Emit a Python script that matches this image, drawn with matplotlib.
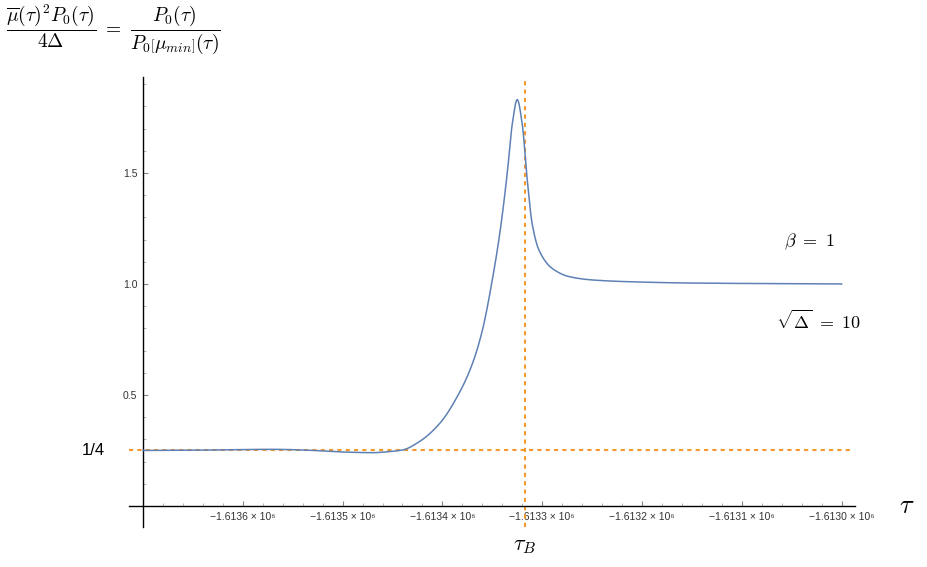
import numpy as np
import matplotlib
matplotlib.use("Agg")
import matplotlib.pyplot as plt
from matplotlib.ticker import FixedLocator, FixedFormatter

plt.rcParams['mathtext.fontset'] = 'cm'
plt.rcParams['font.family'] = ['Liberation Sans', 'DejaVu Sans']

# curve
tau = [-1613700, -1613650, -1613600, -1613570, -1613540, -1613520, -1613500,
       -1613470, -1613455, -1613440, -1613423, -1613403, -1613383, -1613370,
       -1613360, -1613350, -1613342, -1613335, -1613330, -1613325, -1613320,
       -1613315, -1613310, -1613303, -1613290, -1613273, -1613250, -1613213,
       -1613150, -1613000]
ratio = [0.250, 0.251, 0.254, 0.255, 0.252, 0.248, 0.243,
         0.240, 0.244, 0.252, 0.290, 0.370, 0.510, 0.640,
         0.790, 1.018, 1.243, 1.500, 1.720, 1.830, 1.720,
         1.470, 1.270, 1.150, 1.070, 1.033, 1.018, 1.010,
         1.004, 1.000]

tau_B = -1613317
quarter = 0.25
xticks = [-1613600, -1613500, -1613400, -1613300, -1613200, -1613100, -1613000]
xlabels = ["\u22121.6136 \u00d7 10\u2076", "\u22121.6135 \u00d7 10\u2076", "\u22121.6134 \u00d7 10\u2076",
           "\u22121.6133 \u00d7 10\u2076", "\u22121.6132 \u00d7 10\u2076", "\u22121.6131 \u00d7 10\u2076",
           "\u22121.6130 \u00d7 10\u2076"]
yticks = [0.5, 1.0, 1.5]
ylabels = ["0.5", "1.0", "1.5"]


# monotone cubic (Fritsch-Carlson) to draw a smooth line through the read points
def pchip(x, y, xn):
    x = np.asarray(x, float)
    y = np.asarray(y, float)
    h = np.diff(x)
    d = np.diff(y) / h
    m = np.zeros_like(y)
    for k in range(1, len(x) - 1):
        if d[k - 1] * d[k] > 0:
            w1 = 2 * h[k] + h[k - 1]
            w2 = h[k] + 2 * h[k - 1]
            m[k] = (w1 + w2) / (w1 / d[k - 1] + w2 / d[k])
    m[0] = d[0]
    m[-1] = d[-1]
    idx = np.clip(np.searchsorted(x, xn) - 1, 0, len(x) - 2)
    hk = h[idx]
    u = (xn - x[idx]) / hk
    h00 = 2 * u ** 3 - 3 * u ** 2 + 1
    h10 = u ** 3 - 2 * u ** 2 + u
    h01 = -2 * u ** 3 + 3 * u ** 2
    h11 = u ** 3 - u ** 2
    return h00 * y[idx] + h10 * hk * m[idx] + h01 * y[idx + 1] + h11 * hk * m[idx + 1]


xs = np.linspace(tau[0], tau[-1], 2000)
ys = pchip(tau, ratio, xs)

fig = plt.figure(figsize=(9.28, 5.67), dpi=100)
ax = fig.add_axes([0, 0, 1, 1])
ax.set_xlim(-1613843.3, -1612913.4)
ax.set_ylim(-0.275, 2.279)

orange = '#F39A2E'
ax.plot(xs, ys, color='#5E81B5', lw=1.1, zorder=3)
ax.plot([-1613714, -1612990], [quarter, quarter], color=orange, lw=1.5, ls=(0, (2, 2)), zorder=2)
ax.plot([tau_B, tau_B], [-0.095, 1.93], color=orange, lw=1.5, ls=(0, (2, 2)), zorder=2)

for sp in ['top', 'right']:
    ax.spines[sp].set_visible(False)
ax.spines['left'].set_position(('data', -1613700))
ax.spines['bottom'].set_position(('data', 0))
ax.spines['left'].set_bounds(-0.095, 1.93)
ax.spines['bottom'].set_bounds(-1613714, -1612987)
for sp in ['left', 'bottom']:
    ax.spines[sp].set_linewidth(1.0)
    ax.spines[sp].set_color('black')

ax.xaxis.set_major_locator(FixedLocator(xticks))
ax.xaxis.set_major_formatter(FixedFormatter(xlabels))
ax.xaxis.set_minor_locator(FixedLocator([v for v in range(-1613700, -1612990, 20) if v % 100 != 0]))
ax.yaxis.set_major_locator(FixedLocator(yticks))
ax.yaxis.set_major_formatter(FixedFormatter(ylabels))
ax.yaxis.set_minor_locator(FixedLocator([0.1, 0.2, 0.3, 0.4, 0.6, 0.7, 0.8, 0.9,
                                         1.1, 1.2, 1.3, 1.4, 1.6, 1.7, 1.8, 1.9]))
ax.tick_params(which='major', direction='in', length=3.5, width=0.8, color='#888888',
               labelsize=7.5, labelcolor='#333333', pad=4)
ax.tick_params(which='minor', direction='in', length=2, width=0.6, color='#aaaaaa')

ax.text(-1613738, quarter, "1/4", fontsize=12, ha='right', va='center')
ax.text(-1612935, 0.0, r"$\tau$", fontsize=19, ha='center', va='center')
ax.text(tau_B, -0.18, r"$\tau_B$", fontsize=16, ha='center', va='center')
ax.text(-1613007, 1.19, r"$\beta\ =\ 1$", fontsize=13, ha='right', va='center')
ax.text(-1612980, 0.83, r"$\sqrt{\Delta}\ =\ 10$", fontsize=13, ha='right', va='center')
fig.text(0.006, 0.995, r"$\dfrac{\overline{\mu}(\tau)^2 P_0(\tau)}{4\Delta}\ =\ \dfrac{P_0(\tau)}{P_0\left[\mu_{min}\right](\tau)}$",
         fontsize=14, ha='left', va='top')

fig.savefig('out.png', dpi=100)
